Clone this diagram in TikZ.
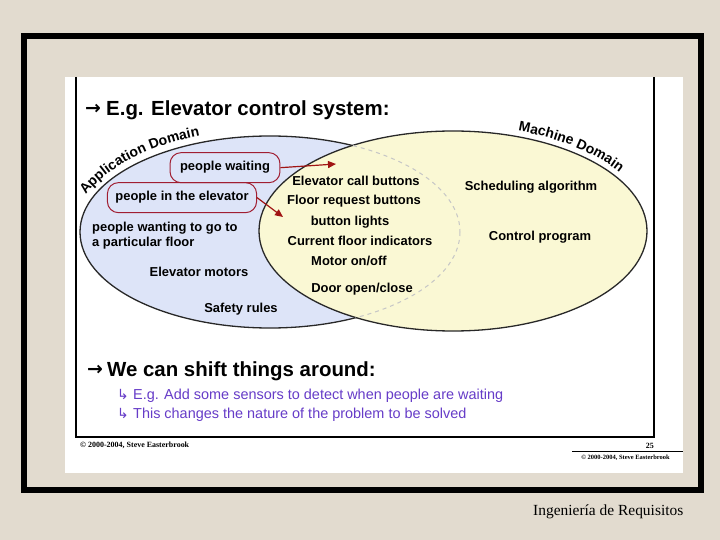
\documentclass[tikz,border=0pt]{standalone}
\usepackage{fontspec}
\setmainfont{Liberation Serif}
\setsansfont{Liberation Sans}
\newfontfamily\symfont{DejaVu Sans}
\usetikzlibrary{arrows.meta,decorations.text}

\definecolor{paper}{RGB}{226,219,207}
\definecolor{appblue}{RGB}{221,228,248}
\definecolor{machyellow}{RGB}{250,248,212}
\definecolor{rimgray}{RGB}{40,40,40}
\definecolor{loopred}{RGB}{160,30,50}
\definecolor{arrowred}{RGB}{160,20,20}
\definecolor{itempurple}{RGB}{102,60,200}

\tikzset{
  lbl/.style={font=\sffamily\bfseries\fontsize{13}{15}\selectfont, anchor=base, inner sep=1pt},
  ringed/.style={draw=loopred, line width=1pt, rounded corners=11bp, minimum height=30bp},
  heading/.style={font=\sffamily\bfseries\fontsize{20.5}{24}\selectfont, anchor=base west, inner sep=0pt},
  subitem/.style={font=\sffamily\fontsize{14.5}{17}\selectfont, text=itempurple, anchor=base west, inner sep=0pt},
  shiftarrow/.style={draw=arrowred, line width=1.2pt, -{Triangle[length=8bp,width=7bp]}}
}

\begin{document}
\begin{tikzpicture}[x=1bp, y=-1bp]
  \useasboundingbox (0,0) rectangle (720,540);

  % Draw the background, frame and slide
  \fill[paper] (0,0) rectangle (720,540);
  \draw[line width=6.5bp] (24,36) rectangle (701,490);
  \fill[white] (65,77) rectangle (683,473);
  \draw[line width=1.2bp] (76,77) -- (76,437) -- (654,437) -- (654,77);

  % Draw the two domains
  \filldraw[fill=appblue, draw=rimgray, line width=1.3bp] (270,232) ellipse [x radius=190, y radius=96];
  \filldraw[fill=machyellow, draw=rimgray, line width=1.3bp] (453,231) ellipse [x radius=194, y radius=100];
  \begin{scope}
    \clip (453,231) ellipse [x radius=194, y radius=100];
    \draw[gray!45, line width=1bp, dash pattern=on 4bp off 4bp] (270,232) ellipse [x radius=190, y radius=96];
  \end{scope}

  % Label the domains along their rims
  \path[decorate, decoration={text along path, text align=left,
      text={|\sffamily\bfseries\fontsize{14}{16}\selectfont|Application Domain}}]
    (270,232) ++(-159:197 and 103) arc[start angle=-159, end angle=-90, x radius=197, y radius=103];
  \path[decorate, decoration={text along path, text align=left,
      text={|\sffamily\bfseries\fontsize{14}{16}\selectfont|Machine Domain}}]
    (453,231) ++(-71:200 and 106) arc[start angle=-71, end angle=-10, x radius=200, y radius=106];

  % Title
  \node[heading] (tarrow) at (85,115) {\symfont\bfseries\fontsize{19}{20}\selectfont →};
  \node[heading] (title) at (106,116) {E.g. Elevator control system:};

  % Application domain items
  \node[lbl, ringed, inner xsep=10bp] (waiting) at (225,171) {people waiting};
  \node[lbl, ringed, inner xsep=8bp] (inside) at (182,201) {people in the elevator};
  \node[lbl, anchor=north west, align=left, inner sep=0pt] (wanting) at (92,222) {people wanting to go to\\a particular floor};
  \node[lbl] (motors) at (199,277) {Elevator motors};
  \node[lbl] (safety) at (241,312) {Safety rules};

  % Shared phenomena
  \node[lbl] (callbtn) at (356,186) {Elevator call buttons};
  \node[lbl] (floorbtn) at (354,205) {Floor request buttons};
  \node[lbl] (lights) at (350,226) {button lights};
  \node[lbl] (current) at (360,246) {Current floor indicators};
  \node[lbl] (motoronoff) at (349,266) {Motor on/off};
  \node[lbl] (door) at (362,292) {Door open/close};

  % Machine domain items
  \node[lbl] (sched) at (531,191) {Scheduling algorithm};
  \node[lbl] (control) at (540,241) {Control program};

  % Shift arrows
  \coordinate (waitingtip) at (336,164);
  \coordinate (insidetip) at (283,217);
  \draw[shiftarrow] (waiting.east) -- (waitingtip);
  \draw[shiftarrow] (inside.east) -- (insidetip);

  % Second heading and its points
  \node[heading] (sarrow) at (87,375) {\symfont\bfseries\fontsize{19}{20}\selectfont →};
  \node[heading] (shift) at (107,376) {We can shift things around:};
  \node[subitem] (b1) at (117,399) {\symfont\fontsize{14}{16}\selectfont ↳};
  \node[subitem] (item1) at (133,399) {E.g. Add some sensors to detect when people are waiting};
  \node[subitem] (b2) at (117,418) {\symfont\fontsize{14}{16}\selectfont ↳};
  \node[subitem] (item2) at (133,418) {This changes the nature of the problem to be solved};

  % Footer of the slide
  \node[font=\bfseries\fontsize{8}{9}\selectfont, anchor=west, inner sep=0pt] (copyl) at (80,445) {© 2000-2004, Steve Easterbrook};
  \node[font=\bfseries\fontsize{8}{9}\selectfont, anchor=east, inner sep=0pt] (page) at (654,446) {25};
  \draw[line width=1bp] (572,451) -- (683,451);
  \node[font=\bfseries\fontsize{6.5}{8}\selectfont, anchor=east, inner sep=0pt] (copyr) at (670,458) {© 2000-2004, Steve Easterbrook};

  % Course label
  \node[font=\fontsize{15.5}{18}\selectfont, anchor=west, inner sep=0pt] (course) at (533,512) {Ingeniería de Requisitos};
\end{tikzpicture}
\end{document}
